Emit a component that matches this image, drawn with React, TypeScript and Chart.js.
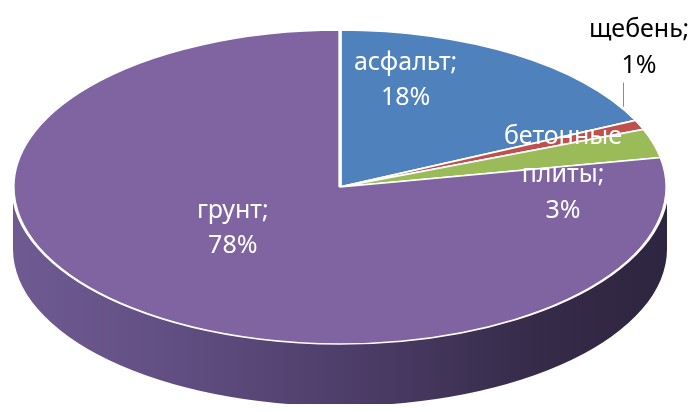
import React, { useEffect, useRef } from "react";
import { Chart, registerables } from "chart.js";

Chart.register(...registerables);

const categories = ["асфальт", "щебень", "бетонные плиты", "грунт"];
const shares = [18, 1, 3, 78];
const labelLines = [
  ["асфальт;", "18%"],
  ["щебень;", "1%"],
  ["бетонные", "плиты;", "3%"],
  ["грунт;", "78%"],
];
const sliceColors = ["#4f81bd", "#c0504d", "#9bbb59", "#8064a2"];

const SCALE_X = 327 / 157;
const DEPTH = 62;
const FONT = '25px "Noto Sans", "Open Sans", sans-serif';

// label layout relative to each slice's anchor (ellipse point at mid angle)
const labelStyle = [
  { frac: 0.5, dx: -22, dy: -51, gaps: [35], color: "#ffffff" },
  { frac: 1.0, dx: -1, dy: -88, gaps: [36], color: "#000000", leader: { dx: -17, y1: -18, y2: -42 } },
  { frac: 0.5, dx: 66, dy: -21, gaps: [38, 36], color: "#ffffff" },
  { frac: 0.5, dx: -3, dy: -29.5, gaps: [35], color: "#ffffff" },
];

const pie3d = {
  id: "pie3d",
  beforeDatasetsDraw(chart: any) {
    const ctx = chart.ctx;
    const arcs = chart.getDatasetMeta(0).data;
    if (!arcs.length) return;
    const cx = arcs[0].x;
    const cy = arcs[0].y;
    const r = arcs[0].outerRadius;
    const rx = r * SCALE_X;
    const ry = r;
    // side wall
    ctx.save();
    const g = ctx.createLinearGradient(cx - rx, 0, cx + rx, 0);
    g.addColorStop(0, "#6f5b92");
    g.addColorStop(0.3, "#5e4b7e");
    g.addColorStop(0.55, "#4a3b65");
    g.addColorStop(0.8, "#362b49");
    g.addColorStop(1, "#2e2540");
    ctx.beginPath();
    ctx.moveTo(cx + rx, cy);
    ctx.lineTo(cx + rx, cy + DEPTH);
    ctx.ellipse(cx, cy + DEPTH, rx, ry, 0, 0, Math.PI, false);
    ctx.lineTo(cx - rx, cy);
    ctx.ellipse(cx, cy, rx, ry, 0, Math.PI, 0, true);
    ctx.closePath();
    ctx.fillStyle = g;
    ctx.fill();
    ctx.restore();
    // flatten top face
    ctx.save();
    ctx.translate(cx, cy);
    ctx.scale(SCALE_X, 1);
    ctx.translate(-cx, -cy);
  },
  afterDatasetsDraw(chart: any) {
    const ctx = chart.ctx;
    ctx.restore();
    const arcs = chart.getDatasetMeta(0).data;
    ctx.save();
    ctx.font = FONT;
    ctx.textAlign = "center";
    ctx.textBaseline = "alphabetic";
    arcs.forEach((arc: any, i: number) => {
      const st = labelStyle[i];
      const mid = (arc.startAngle + arc.endAngle) / 2;
      const ax = arc.x + Math.cos(mid) * arc.outerRadius * st.frac * SCALE_X;
      const ay = arc.y + Math.sin(mid) * arc.outerRadius * st.frac;
      if (st.leader) {
        ctx.strokeStyle = "#8c8c8c";
        ctx.lineWidth = 1;
        ctx.beginPath();
        ctx.moveTo(Math.round(ax + st.leader.dx) + 0.5, ay + st.leader.y1);
        ctx.lineTo(Math.round(ax + st.leader.dx) + 0.5, ay + st.leader.y2);
        ctx.stroke();
      }
      ctx.fillStyle = st.color;
      let y = ay + st.dy;
      labelLines[i].forEach((line, j) => {
        if (j > 0) y += st.gaps[Math.min(j - 1, st.gaps.length - 1)];
        ctx.fillText(line, ax + st.dx, y);
      });
    });
    ctx.restore();
  },
};

export default function App() {
  const ref = useRef<HTMLCanvasElement>(null);
  useEffect(() => {
    const chart = new Chart(ref.current!, {
      type: "pie",
      data: {
        labels: categories,
        datasets: [
          {
            data: shares,
            backgroundColor: sliceColors,
            borderColor: "#ffffff",
            borderWidth: 1.6,
            radius: 157,
            clip: false,
          } as any,
        ],
      },
      options: {
        responsive: false,
        animation: false,
        devicePixelRatio: 1,
        rotation: 0,
        layout: { padding: { left: 0, right: 16, top: 0, bottom: 38 } },
        plugins: {
          legend: { display: false },
          tooltip: { enabled: false },
        },
      },
      plugins: [pie3d],
    });
    return () => chart.destroy();
  }, []);
  return <canvas ref={ref} width={680} height={396} style={{ display: "block" }} />;
}
